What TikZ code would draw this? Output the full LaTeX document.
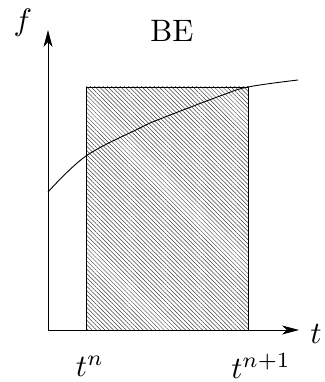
\documentclass[tikz,border=0pt]{standalone}
\usetikzlibrary{arrows.meta,patterns.meta}
\begin{document}
\begin{tikzpicture}[x=1pt,y=-1pt,
  axis/.style={line width=0.8pt,-{Stealth[length=17pt,width=9pt,inset=5pt]}},
  hatch/.style={pattern={Lines[angle=-45,distance=3pt,line width=0.5pt]},pattern color=black!75},
  lbl/.style={inner sep=0pt,scale=3.1}]
\useasboundingbox (0,0) rectangle (324,382);
\coordinate (O) at (48,330);
\coordinate (Ytip) at (48,30);
\coordinate (Xtip) at (299,330);
\coordinate (R1) at (86,330);
\coordinate (R2) at (248,87);
\fill[hatch] (R1) rectangle (R2);
\draw[line width=0.7pt] (R1) rectangle (R2);
\draw[axis] (O) -- (Ytip);
\draw[axis] (O) -- (Xtip);
\draw[line width=0.9pt] plot[smooth,tension=0.6] coordinates {(48,192) (86,156) (140,128) (160,119) (220,96) (248,87) (298,80)};
\node[lbl] (f) at (23,23) {$f$};
\node[lbl] (be) at (172,31) {BE};
\node[lbl] (t) at (316,334) {$t$};
\node[lbl] (tn) at (90,366) {$t^n$};
\node[lbl] (tn1) at (261,366) {$t^{n+1}$};
\end{tikzpicture}
\end{document}
